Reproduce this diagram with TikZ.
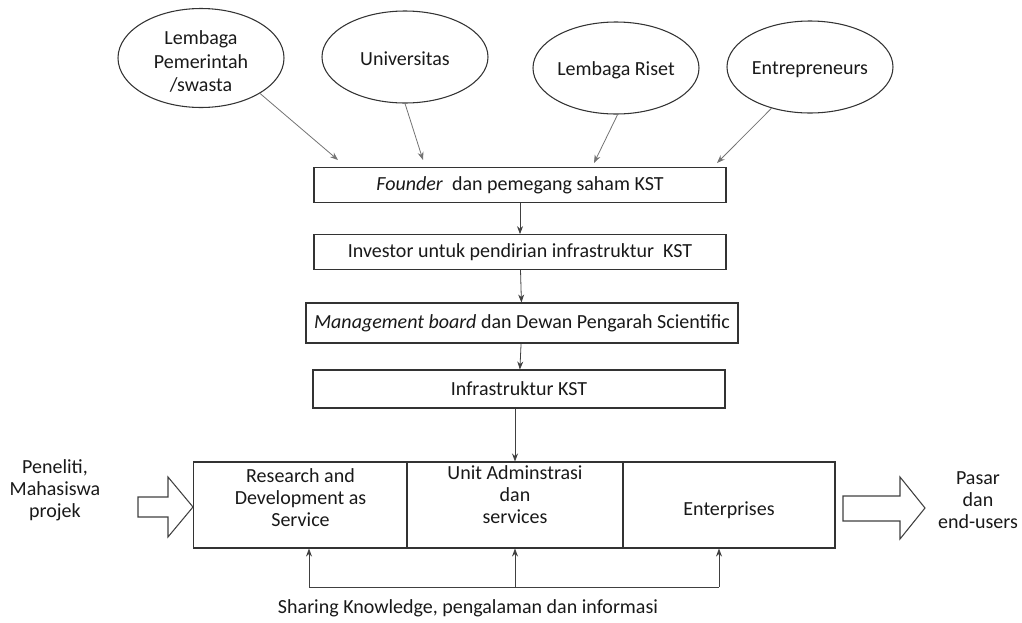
\documentclass[tikz,border=0pt]{standalone}
\usepackage{fontspec}
\setmainfont{Carlito}
\usepackage{tikz}
\usetikzlibrary{shapes.geometric,arrows.meta}
\newcommand{\rows}[2][0pt]{\raisebox{#1}[\height][\depth]{\begin{tabular}{@{}c@{}}#2\end{tabular}}}
\tikzset{
  ovalnode/.style={draw=black!80,line width=0.8pt,ellipse,minimum width=124.5pt,minimum height=69pt,inner sep=0pt,font=\fontsize{15}{17.5}\selectfont},
  boxnode/.style={draw=black!80,line width=0.8pt,rectangle,minimum width=309pt,minimum height=26pt,inner sep=0pt},
  cellnode/.style={draw=black!80,line width=0.8pt,rectangle,minimum width=160pt,minimum height=64.5pt,inner sep=0pt},
  greyarrow/.style={draw=black!55,line width=0.6pt,-{Stealth[length=6pt,width=4.5pt]}},
  thinarrow/.style={draw=black!75,line width=0.6pt,-{Stealth[length=6pt,width=4.5pt]}},
  blockarrow/.style={draw=black!75,line width=0.8pt,fill=white,line join=miter}
}

\begin{document}
\begin{tikzpicture}[x=0.75pt,y=-0.75pt,font=\fontsize{15}{16.5}\selectfont,text=black!90]
    \useasboundingbox (0,0) rectangle (1022,622);
    % sources
    \node[ovalnode] (lpem) at (201,58) {\rows[-4pt]{Lembaga\\Pemerintah\\/swasta}};
    \node[ovalnode] (univ) at (405,57) {\rows[-3pt]{Universitas}};
    \node[ovalnode] (lriset) at (616,68) {\rows[-2pt]{Lembaga Riset}};
    \node[ovalnode] (entr) at (810,67) {\rows[-2pt]{Entrepreneurs}};
    % chain of boxes
    \node[boxnode] (founder) at (520,185) {\textit{Founder}\ \ dan pemegang saham KST};
    \node[boxnode] (investor) at (520,252) {Investor untuk pendirian infrastruktur\ \ KST};
    \node[boxnode,minimum width=324pt,minimum height=30pt] (mboard) at (522,323) {\textit{Management board} dan Dewan Pengarah Scientific};
    \node[boxnode,minimum height=28.5pt] (infra) at (519,389) {Infrastruktur KST};
    % bottom row
    \node[cellnode] (rnd) at (300.5,505) {\rows[3.5pt]{Research and\\Development as\\Service}};
    \node[cellnode,minimum width=162pt] (unit) at (515,505) {\rows[6pt]{Unit Adminstrasi\\dan\\services}};
    \node[cellnode,minimum width=159pt] (ent) at (729,505) {\rows[-4.5pt]{Enterprises}};
    \node (peneliti) at (55,491) {\rows{Peneliti,\\Mahasiswa\\projek}};
    \node (pasar) at (978,502) {\rows{Pasar\\dan\\end-users}};
    \node (sharing) at (468,608) {Sharing Knowledge, pengalaman dan informasi};
    \coordinate (t1) at (338,160);
    \coordinate (t2) at (423,160);
    \coordinate (t3) at (594,163);
    \coordinate (t4) at (717,163);
    \coordinate (fbl) at (309,587);
    \coordinate (fbr) at (719,587);
    % arrows
    \draw[greyarrow] (lpem.-31) -- (t1);
    \draw[greyarrow] (univ.-90) -- (t2);
    \draw[greyarrow] (lriset.-88) -- (t3);
    \draw[greyarrow] (entr.-133) -- (t4);
    \draw[thinarrow] (founder) -- (investor);
    \draw[thinarrow] (investor) -- (mboard);
    \draw[thinarrow] (mboard) -- (infra);
    \draw[thinarrow] (infra.south -| unit.north) -- (unit.north);
    \draw[draw=black!75,line width=0.6pt] (fbl) -- (fbr);
    \draw[thinarrow] (fbl) -- (fbl |- rnd.south);
    \draw[thinarrow] (fbl -| unit.south) -- (unit.south);
    \draw[thinarrow] (fbr) -- (fbr |- ent.south);
    % block arrows
    \draw[blockarrow] (138,497) -- (168,497) -- (168,477) -- (193,507) -- (168,537) -- (168,517) -- (138,517) -- cycle;
    \draw[blockarrow] (843,496) -- (900,496) -- (900,477) -- (925,508) -- (900,539) -- (900,521) -- (843,521) -- cycle;
  \end{tikzpicture}
\end{document}
